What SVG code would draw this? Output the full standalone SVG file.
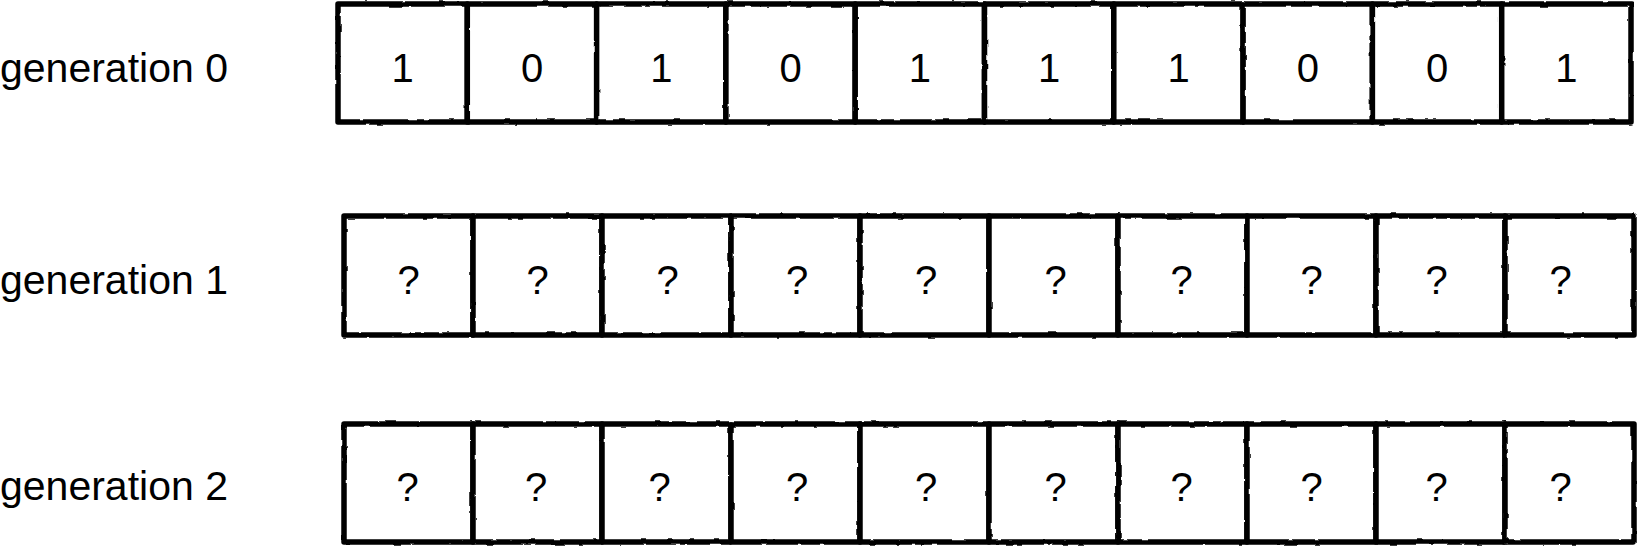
<svg xmlns="http://www.w3.org/2000/svg" width="1640" height="547" viewBox="0 0 1640 547">
  <style>
    .lbl { font-family: "Liberation Sans", Arial, sans-serif; font-size: 41px; fill: #000; }
    .val { font-family: "Liberation Sans", Arial, sans-serif; font-size: 40px; fill: #000; text-anchor: middle; }
    .box { fill: #fff; stroke: #000; stroke-width: 5.5; stroke-linejoin: round; filter: url(#rough); }
  </style>
  <defs>
    <filter id="rough" x="-2%" y="-5%" width="104%" height="110%">
      <feTurbulence type="fractalNoise" baseFrequency="0.08" numOctaves="2" seed="3" result="n"/>
      <feDisplacementMap in="SourceGraphic" in2="n" scale="2.5" xChannelSelector="R" yChannelSelector="G"/>
    </filter>
  </defs>
  <rect width="1640" height="547" fill="#fff"/>

  <g id="label-gen0"><text class="lbl" x="0" y="82">generation 0</text></g>
  <g id="label-gen1"><text class="lbl" x="0" y="294">generation 1</text></g>
  <g id="label-gen2"><text class="lbl" x="0" y="500">generation 2</text></g>

  <g id="row-gen0">
    <g id="g0-c0"><rect class="box" x="338" y="4" width="129.3" height="118"/><text class="val" x="402.7" y="82">1</text></g>
    <g id="g0-c1"><rect class="box" x="467.3" y="4" width="129.3" height="118"/><text class="val" x="532" y="82">0</text></g>
    <g id="g0-c2"><rect class="box" x="596.6" y="4" width="129.3" height="118"/><text class="val" x="661.3" y="82">1</text></g>
    <g id="g0-c3"><rect class="box" x="725.9" y="4" width="129.3" height="118"/><text class="val" x="790.6" y="82">0</text></g>
    <g id="g0-c4"><rect class="box" x="855.2" y="4" width="129.3" height="118"/><text class="val" x="919.9" y="82">1</text></g>
    <g id="g0-c5"><rect class="box" x="984.5" y="4" width="129.3" height="118"/><text class="val" x="1049.2" y="82">1</text></g>
    <g id="g0-c6"><rect class="box" x="1113.8" y="4" width="129.3" height="118"/><text class="val" x="1178.5" y="82">1</text></g>
    <g id="g0-c7"><rect class="box" x="1243.1" y="4" width="129.3" height="118"/><text class="val" x="1307.8" y="82">0</text></g>
    <g id="g0-c8"><rect class="box" x="1372.4" y="4" width="129.3" height="118"/><text class="val" x="1437.1" y="82">0</text></g>
    <g id="g0-c9"><rect class="box" x="1501.7" y="4" width="129.3" height="118"/><text class="val" x="1566.4" y="82">1</text></g>
  </g>

  <g id="row-gen1">
    <g id="g1-c0"><rect class="box" x="344" y="216" width="129" height="119"/><text class="val" x="408.5" y="294">?</text></g>
    <g id="g1-c1"><rect class="box" x="473" y="216" width="129" height="119"/><text class="val" x="537.5" y="294">?</text></g>
    <g id="g1-c2"><rect class="box" x="602" y="216" width="129" height="119"/><text class="val" x="667.5" y="294">?</text></g>
    <g id="g1-c3"><rect class="box" x="731" y="216" width="129" height="119"/><text class="val" x="797" y="294">?</text></g>
    <g id="g1-c4"><rect class="box" x="860" y="216" width="129" height="119"/><text class="val" x="926" y="294">?</text></g>
    <g id="g1-c5"><rect class="box" x="989" y="216" width="129" height="119"/><text class="val" x="1055.5" y="294">?</text></g>
    <g id="g1-c6"><rect class="box" x="1118" y="216" width="129" height="119"/><text class="val" x="1181.5" y="294">?</text></g>
    <g id="g1-c7"><rect class="box" x="1247" y="216" width="129" height="119"/><text class="val" x="1311.5" y="294">?</text></g>
    <g id="g1-c8"><rect class="box" x="1376" y="216" width="129" height="119"/><text class="val" x="1436.5" y="294">?</text></g>
    <g id="g1-c9"><rect class="box" x="1505" y="216" width="129" height="119"/><text class="val" x="1560.5" y="294">?</text></g>
  </g>

  <g id="row-gen2">
    <g id="g2-c0"><rect class="box" x="344" y="424" width="129" height="118"/><text class="val" x="407.5" y="501">?</text></g>
    <g id="g2-c1"><rect class="box" x="473" y="424" width="129" height="118"/><text class="val" x="536" y="501">?</text></g>
    <g id="g2-c2"><rect class="box" x="602" y="424" width="129" height="118"/><text class="val" x="659.5" y="501">?</text></g>
    <g id="g2-c3"><rect class="box" x="731" y="424" width="129" height="118"/><text class="val" x="797" y="501">?</text></g>
    <g id="g2-c4"><rect class="box" x="860" y="424" width="129" height="118"/><text class="val" x="926" y="501">?</text></g>
    <g id="g2-c5"><rect class="box" x="989" y="424" width="129" height="118"/><text class="val" x="1055.5" y="501">?</text></g>
    <g id="g2-c6"><rect class="box" x="1118" y="424" width="129" height="118"/><text class="val" x="1181.5" y="501">?</text></g>
    <g id="g2-c7"><rect class="box" x="1247" y="424" width="129" height="118"/><text class="val" x="1311.5" y="501">?</text></g>
    <g id="g2-c8"><rect class="box" x="1376" y="424" width="129" height="118"/><text class="val" x="1436.5" y="501">?</text></g>
    <g id="g2-c9"><rect class="box" x="1505" y="424" width="129" height="118"/><text class="val" x="1560.5" y="501">?</text></g>
  </g>

  <g id="connectors"></g>
</svg>
